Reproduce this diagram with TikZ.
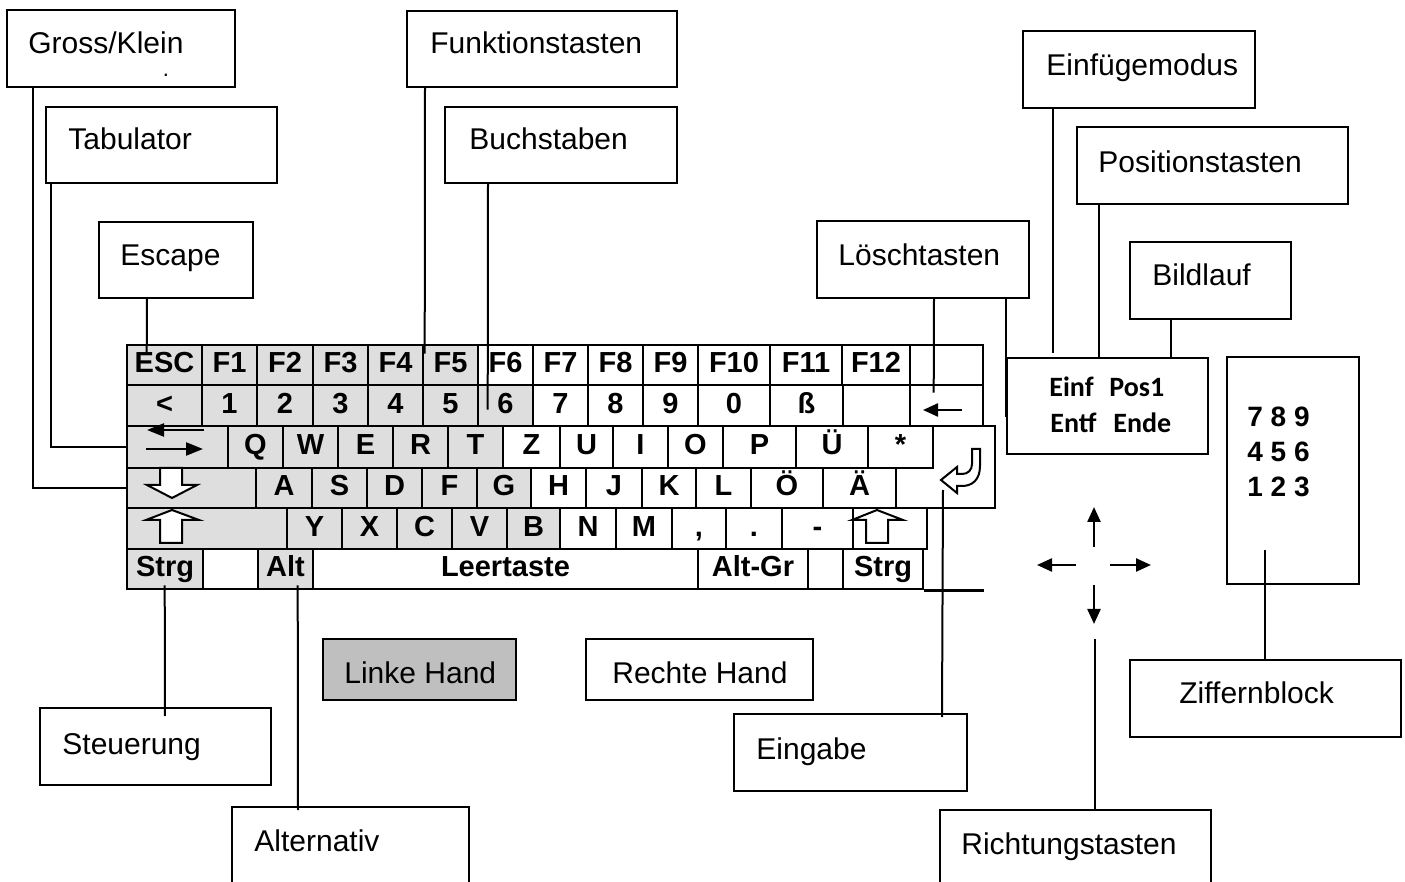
\documentclass[tikz,border=0pt]{standalone}
\usepackage{fontspec}
\setmainfont{Liberation Sans}
\newfontfamily\calib{Carlito}
\usetikzlibrary{fit,calc,arrows.meta}
\colorlet{kg}{black!13}
\colorlet{kw}{white}
\colorlet{handgray}{black!25}
\begin{document}
\begin{tikzpicture}[x=0.5pt,y=-0.5pt,
  lbl/.style={draw,line width=1pt,inner sep=0pt},
  lt/.style={anchor=base west,inner sep=0pt,font=\fontsize{15}{18}\selectfont},
  kbkey/.style={draw,line width=1.3pt,inner sep=0pt,font=\fontsize{14.5}{17}\selectfont\bfseries,text height=10.4pt,text depth=2.5pt},
  conn/.style={line width=1pt},
  arr/.style={line width=1.2pt,-{Triangle[length=7.5pt,width=6.5pt]}},
  tabarr/.style={line width=1.2pt,-{Triangle[length=8.5pt,width=6.5pt]}},
  hollow/.style={draw,line width=1pt,fill=white,line join=miter}]
\useasboundingbox (0,0) rectangle (1405,882);
\clip (0,0) rectangle (1405,882);

% ---------- keyboard ----------
\foreach \xa/\xb/\lab/\nm/\fc in {127/202/ESC/esc/kg,202/257/F1/f1/kg,257/313/F2/f2/kg,313/368/F3/f3/kg,368/423/F4/f4/kg,423/478/F5/f5/kg,478/533/F6/f6/kw,533/588/F7/f7/kw,588/643/F8/f8/kw,643/698/F9/f9/kw,698/770/F10/f10/kw,770/842/F11/f11/kw,842/910/F12/f12/kw,910/983//r1e/kw}
  \node[kbkey,fill=\fc,minimum width={(\xb-\xa)*0.5pt},minimum height=20pt] (k-\nm) at ({(\xa+\xb)/2},365) {\lab};
\foreach \xa/\xb/\lab/\nm/\fc in {127/202/</lt/kg,202/257/1/n1/kg,257/313/2/n2/kg,313/368/3/n3/kg,368/423/4/n4/kg,423/478/5/n5/kg,478/533/6/n6/kg,533/588/7/n7/kw,588/643/8/n8/kw,643/698/9/n9/kw,698/770/0/n0/kw,770/843/ß/sz/kw,843/910//r2e/kw,910/983//bsp/kw}
  \node[kbkey,fill=\fc,minimum width={(\xb-\xa)*0.5pt},minimum height=20.5pt] (k-\nm) at ({(\xa+\xb)/2},405.5) {\lab};
\foreach \xa/\xb/\lab/\nm/\fc in {127/228//tabk/kg,228/283/Q/q/kg,283/338/W/w/kg,338/393/E/e/kg,393/448/R/r/kg,448/503/T/t/kg,503/560/Z/z/kw,560/613/U/u/kw,613/668/I/i/kw,668/723/O/o/kw,723/796/P/p/kw,796/868/Ü/ue/kw,868/933/*/star/kw}
  \node[kbkey,fill=\fc,minimum width={(\xb-\xa)*0.5pt},minimum height=21pt] (k-\nm) at ({(\xa+\xb)/2},447) {\lab};
\foreach \xa/\xb/\lab/\nm/\fc in {127/256//caps/kg,256/312/A/a/kg,312/367/S/s/kg,367/422/D/d/kg,422/477/F/f/kg,477/531/G/g/kg,531/586/H/h/kw,586/642/J/j/kw,642/696/K/k/kw,696/751/L/l/kw,751/823/Ö/oe/kw,823/896/Ä/ae/kw}
  \node[kbkey,fill=\fc,minimum width={(\xb-\xa)*0.5pt},minimum height=20pt] (k-\nm) at ({(\xa+\xb)/2},488) {\lab};
\foreach \xa/\xb/\lab/\nm/\fc in {127/287//lshift/kg,287/342/Y/y/kg,342/397/X/x/kg,397/452/C/c/kg,452/507/V/v/kg,507/560/B/b/kg,560/616/N/nn/kw,616/672/M/m/kw,672/726/{,}/comma/kw,726/782/./dot/kw,782/853/-/minus/kw,853/927//rshift/kw}
  \node[kbkey,fill=\fc,minimum width={(\xb-\xa)*0.5pt},minimum height=20.5pt] (k-\nm) at ({(\xa+\xb)/2},528.5) {\lab};
\foreach \xa/\xb/\lab/\nm/\fc in {127/203/Strg/strgl/kg,203/258//win/kw,258/313/Alt/alt/kg,313/698/Leertaste/space/kw,698/808/Alt-Gr/altgr/kw,808/843//menu/kw,843/923/Strg/strgr/kw}
  \node[kbkey,fill=\fc,minimum width={(\xb-\xa)*0.5pt},minimum height=20pt] (k-\nm) at ({(\xa+\xb)/2},569) {\lab};
% bottom edge continues
\draw[line width=1.3pt] (k-strgr.south east) -- ($(k-strgr.south east)+(60,0)$);
% enter key (L-shape)
\draw[line width=1.3pt,fill=white] (933,426) -- (995,426) -- (995,508) -- (896,508) -- (896,468) -- (933,468) -- cycle;
% enter symbol
\path[hollow] (972,449) -- (980,449) -- (980,466) .. controls (980,480) and (972,486) .. (962,486) -- (957,486) -- (957,493) -- (941,480) -- (957,467) -- (957,474) -- (962,474) .. controls (968,474) and (972,470) .. (972,464) -- cycle;
\coordinate (entpt) at (943,490);
% tab arrows
\draw[tabarr] (204,430) -- (147,430);
\draw[tabarr] (146,449) -- (203,449);
% caps lock arrow
\path[hollow] (160,468) -- (182,468) -- (182,485) -- (197,485) -- (172,498) -- (147,485) -- (160,485) -- cycle;
% shift arrows
\path[hollow] (172,510) -- (199,520) -- (182,520) -- (182,543) -- (160,543) -- (160,520) -- (146,520) -- cycle;
\path[hollow] (877,510) -- (903,520) -- (888,520) -- (888,543) -- (866,543) -- (866,520) -- (852,520) -- cycle;
% backspace arrow
\draw[arr] (962,410) -- (923,410);

% ---------- right side blocks ----------
\node[lbl,fit={(1007,358)(1208,454)}] (einfbox) {};
\node[anchor=base west,inner sep=0pt,font=\calib\bfseries\fontsize{14}{16}\selectfont] (t-einf) at (1049,397) {\makebox[30pt][l]{Einf}Pos1};
\node[anchor=base west,inner sep=0pt,font=\calib\bfseries\fontsize{14}{16}\selectfont] (t-entf) at (1050,433) {\makebox[31.5pt][l]{Entf}Ende};
\node[lbl,fit={(1227,357)(1359,584)}] (numpad) {};
\node[anchor=base west,inner sep=0pt,font=\fontsize{14}{16}\selectfont\bfseries] (np7) at (1247,427) {7 8 9};
\node[anchor=base west,inner sep=0pt,font=\fontsize{14}{16}\selectfont\bfseries] (np4) at (1247,462) {4 5 6};
\node[anchor=base west,inner sep=0pt,font=\fontsize{14}{16}\selectfont\bfseries] (np1) at (1247,497) {1 2 3};
% direction arrows
\node[inner sep=0pt,fit={(1038,505)(1152,639)}] (pfeile) {};
\draw[arr] (1094,547) -- (1094,507);
\draw[arr] (1076,565) -- (1037,565);
\draw[arr] (1110,565) -- (1151,565);
\draw[arr] (1094,585) -- (1094,624);

% ---------- label boxes ----------
\node[lbl,fit={(7,10)(235,87)}] (gross) {};
\node[lt] (t-gross) at (28,54) {Gross/Klein};
\node[anchor=base,inner sep=0pt,font=\fontsize{11}{11}\selectfont] (gdot) at (166,77) {.};
\node[lbl,fit={(46,107)(277,183)}] (tabl) {};
\node[lt] (t-tab) at (68,150) {Tabulator};
\node[lbl,fit={(99,222)(253,298)}] (escl) {};
\node[lt] (t-esc) at (120,266) {Escape};
\node[lbl,fit={(407,11)(677,87)}] (funk) {};
\node[lt] (t-funk) at (430,54) {Funktionstasten};
\node[lbl,fit={(445,107)(677,183)}] (buch) {};
\node[lt] (t-buch) at (469,150) {Buchstaben};
\node[lbl,fit={(1023,31)(1255,108)}] (einfm) {};
\node[lt] (t-einfm) at (1046,76) {Einfügemodus};
\node[lbl,fit={(1077,127)(1348,204)}] (posit) {};
\node[lt] (t-posit) at (1098,173) {Positionstasten};
\node[lbl,fit={(817,221)(1029,298)}] (loesch) {};
\node[lt] (t-loesch) at (838,266) {Löschtasten};
\node[lbl,fit={(1130,242)(1291,319)}] (bild) {};
\node[lt] (t-bild) at (1152,286) {Bildlauf};
\node[lbl,fill=handgray,fit={(323,639)(516,700)}] (linke) {};
\node[lt] (t-linke) at (344,683) {Linke Hand};
\node[lbl,fit={(586,639)(813,700)}] (rechte) {};
\node[lt] (t-rechte) at (612,683) {Rechte Hand};
\node[lbl,fit={(40,708)(271,785)}] (steuer) {};
\node[lt] (t-steuer) at (62,754) {Steuerung};
\node[lbl,fit={(232,807)(469,900)}] (alt) {};
\node[lt] (t-alt) at (254,851) {Alternativ};
\node[lbl,fit={(734,714)(967,791)}] (eingabe) {};
\node[lt] (t-eingabe) at (756,759) {Eingabe};
\node[lbl,fit={(1130,660)(1401,737)}] (ziff) {};
\node[lt] (t-ziff) at (1179,704) {Ziffernblock};
\node[lbl,fit={(940,810)(1211,900)}] (richt) {};
\node[lt] (t-richt) at (961,854) {Richtungstasten};

% ---------- connectors ----------
\draw[conn] (gross.south west) ++(27,0) |- (k-caps.west);
\draw[conn] (tabl.south west) ++(6,0) |- (k-tabk.west);
\draw[conn] (escl.south west) ++(49,0) -- ($(k-esc.north west)+(21,10)$);
\draw[conn] (funk.south west) ++(19,0) -- ($(k-f5.north west)+(3,10)$);
\draw[conn] (buch.south west) ++(44,0) -- ($(k-n6.north west)+(11,26)$);
\draw[conn] (loesch.south west) ++(118,0) -- ($(k-bsp.north west)+(25,9)$);
\draw[conn] (loesch.south west) ++(190,0) -- ($(einfbox.north west)+(0,60)$);
\draw[conn] (einfm.south west) ++(31,0) -- ($(einfbox.north west)+(47,-4)$);
\draw[conn] (posit.south west) ++(23,0) -- ($(einfbox.north west)+(93,0)$);
\draw[conn] (bild.south west) ++(42,0) -- ($(einfbox.north west)+(165,0)$);
\draw[conn] ($(numpad.south west)+(39,-35)$) -- ($(ziff.north west)+(136,0)$);
\draw[conn] (pfeile.south) -- (pfeile.south |- richt.north);
\draw[conn] ($(k-strgl.south west)+(39,-5)$) -- ($(steuer.north west)+(126,9)$);
\draw[conn] ($(k-alt.south west)+(41,-5)$) -- ($(alt.north west)+(67,4)$);
\draw[conn] (entpt) -- ($(eingabe.north west)+(209,4)$);
\end{tikzpicture}
\end{document}
